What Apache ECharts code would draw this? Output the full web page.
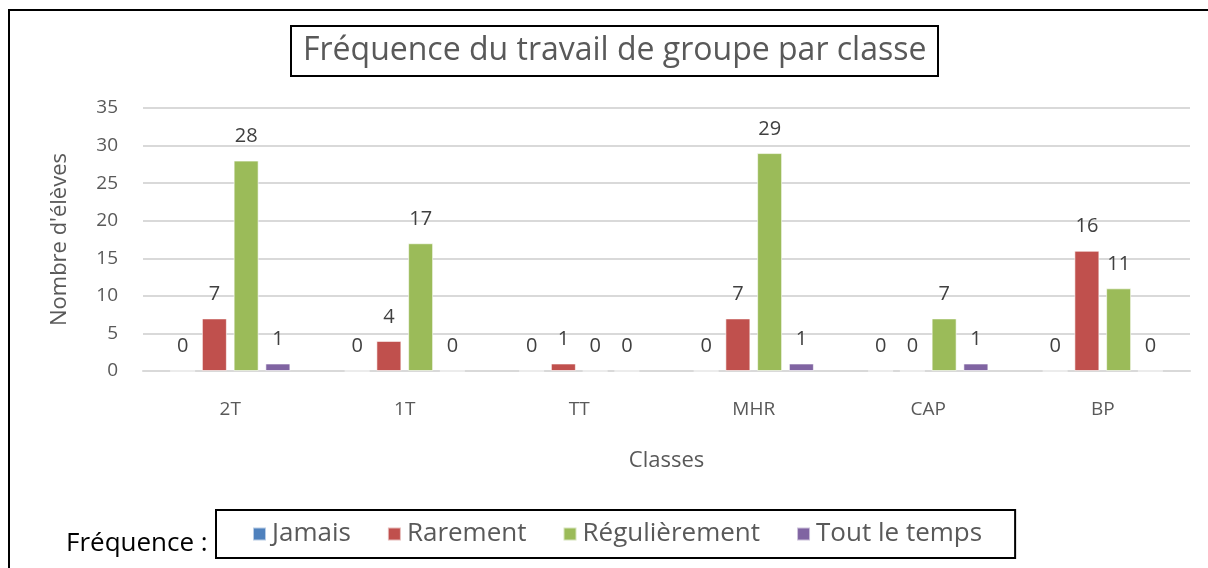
<!DOCTYPE html>
<html>
<head>
<meta charset="utf-8">
<script src="https://cdn.jsdelivr.net/npm/echarts@6/dist/echarts.min.js"></script>
<style>
  html, body { margin: 0; padding: 0; background: #fff; }
  #chart { width: 1208px; height: 568px; }
</style>
</head>
<body>
<div id="chart"></div>
<script>
const classes = ['2T', '1T', 'TT', 'MHR', 'CAP', 'BP'];
const jamais = [0, 0, 0, 0, 0, 0];
const rarement = [7, 4, 1, 7, 0, 16];
const regulierement = [28, 17, 0, 29, 7, 11];
const toutLeTemps = [1, 0, 0, 1, 1, 0];
const yTicks = { min: 0, max: 35, interval: 5 };

const FONT = 'Open Sans';
const colors = ['#4f81bd', '#c0504d', '#9bbb59', '#8064a2'];

function makeSeries(name, data) {
  return {
    name: name,
    type: 'bar',
    data: data,
    barWidth: 25,
    barGap: '27%',
    itemStyle: { borderColor: 'rgba(255,255,255,0.6)', borderWidth: 1 },
    label: {
      show: true,
      position: 'top',
      distance: 14,
      color: '#404040',
      fontSize: 20,
      fontFamily: FONT
    }
  };
}

const chart = echarts.init(document.getElementById('chart'));
chart.setOption({
  animation: false,
  color: colors,
  title: {
    text: 'Fréquence du travail de groupe par classe',
    left: 291,
    top: 26,
    borderColor: '#000',
    borderWidth: 2,
    padding: [7, 12, 7, 12],
    textStyle: {
      color: '#595959',
      fontSize: 32,
      lineHeight: 36,
      fontWeight: 'normal',
      fontFamily: FONT
    }
  },
  legend: {
    left: 216,
    top: 510,
    borderColor: '#000',
    borderWidth: 2,
    padding: [11, 33, 11, 36],
    itemWidth: 13,
    itemHeight: 13,
    itemGap: 36,
    icon: 'rect',
    textStyle: { color: '#595959', fontSize: 26, lineHeight: 26, fontFamily: FONT, padding: [0, 0, 0, 1] }
  },
  graphic: [
    {
      type: 'rect',
      shape: { x: 9, y: 10, width: 1230, height: 600 },
      style: { fill: 'none', stroke: '#000', lineWidth: 2 },
      silent: true
    },
    {
      type: 'text',
      left: 66,
      top: 531,
      style: { text: 'Fréquence :', fill: '#000', fontSize: 26, fontFamily: FONT }
    }
  ],
  grid: { left: 143, right: 18, top: 108, bottom: 197 },
  xAxis: {
    type: 'category',
    data: classes,
    name: 'Classes',
    nameLocation: 'middle',
    nameGap: 79,
    nameTextStyle: { color: '#595959', fontSize: 22, fontFamily: FONT },
    axisLine: { lineStyle: { color: '#d9d9d9', width: 2 } },
    axisTick: { show: false },
    axisLabel: { color: '#595959', fontSize: 19, fontFamily: FONT, margin: 29 }
  },
  yAxis: {
    type: 'value',
    min: yTicks.min,
    max: yTicks.max,
    interval: yTicks.interval,
    name: "Nombre d'élèves",
    nameLocation: 'middle',
    nameGap: 72,
    nameTextStyle: { color: '#595959', fontSize: 22, fontFamily: FONT },
    axisLine: { show: false },
    axisTick: { show: false },
    axisLabel: { color: '#595959', fontSize: 19, fontFamily: FONT, margin: 25 },
    splitLine: { lineStyle: { color: '#d9d9d9', width: 2 } }
  },
  series: [
    makeSeries('Jamais', jamais),
    makeSeries('Rarement', rarement),
    makeSeries('Régulièrement', regulierement),
    makeSeries('Tout le temps', toutLeTemps)
  ]
});
</script>
</body>
</html>
